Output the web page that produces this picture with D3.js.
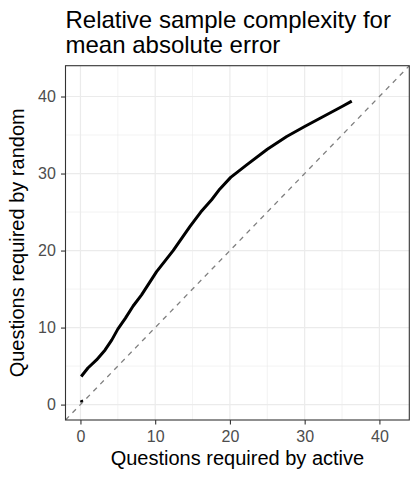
<!DOCTYPE html>
<html><head><meta charset="utf-8">
<script src="https://cdn.jsdelivr.net/npm/d3@7"></script>
<style>body{margin:0;background:#fff;}svg{display:block;font-family:"Liberation Sans",Arial,sans-serif;}</style>
</head><body>
<script>
const titleLines = ["Relative sample complexity for", "mean absolute error"];
const xLabel = "Questions required by active";
const yLabel = "Questions required by random";
const ticks = [0, 10, 20, 30, 40];
const minorTicks = [-5, 5, 15, 25, 35, 45];
const activeQ = [0.1, 1.0, 2.15, 3.3, 4.2, 5.0, 6.0, 7.05, 8.18, 10.19, 12.4, 14.64, 16.1, 17.55, 18.66, 20.1, 22.2, 25.0, 27.6, 30.0, 32.5, 35.0, 36.3];
const randomQ = [3.65, 4.75, 5.8, 7.1, 8.4, 9.8, 11.2, 12.8, 14.25, 17.27, 20.0, 23.1, 25.0, 26.6, 28.0, 29.5, 31.1, 33.15, 34.8, 36.1, 37.4, 38.7, 39.4];
const stubActive = [0.1, 0.22];
const stubRandom = [0.58, 0.32];
const domain = [-2, 44];

const W = 420, H = 480;
const L = 65.5, R = 409.3, T = 65.7, B = 420;
const svg = d3.select("body").append("svg").attr("width", W).attr("height", H);
const x = d3.scaleLinear().domain(domain).range([L, R]);
const y = d3.scaleLinear().domain(domain).range([B, T]);

const defs = svg.append("defs");
defs.append("clipPath").attr("id", "clip").append("rect").attr("x", L).attr("y", T).attr("width", R - L).attr("height", B - T);

// grid
const g = svg.append("g");
const minorIn = minorTicks.filter(d => d > domain[0] && d < domain[1]);
g.selectAll(".mx").data(minorIn).enter().append("line")
  .attr("x1", d => x(d)).attr("x2", d => x(d)).attr("y1", T).attr("y2", B).attr("stroke", "#EBEBEB").attr("stroke-width", 0.6);
g.selectAll(".my").data(minorIn).enter().append("line")
  .attr("y1", d => y(d)).attr("y2", d => y(d)).attr("x1", L).attr("x2", R).attr("stroke", "#EBEBEB").attr("stroke-width", 0.6);
g.selectAll(".Mx").data(ticks).enter().append("line")
  .attr("x1", d => x(d)).attr("x2", d => x(d)).attr("y1", T).attr("y2", B).attr("stroke", "#EBEBEB").attr("stroke-width", 1.2);
g.selectAll(".My").data(ticks).enter().append("line")
  .attr("y1", d => y(d)).attr("y2", d => y(d)).attr("x1", L).attr("x2", R).attr("stroke", "#EBEBEB").attr("stroke-width", 1.2);

const plot = svg.append("g").attr("clip-path", "url(#clip)");
plot.append("line").attr("x1", x(domain[0])).attr("y1", y(domain[0])).attr("x2", x(domain[1])).attr("y2", y(domain[1]))
  .attr("stroke", "#7F7F7F").attr("stroke-width", 1.3).attr("stroke-dasharray", "5,5");

const line = d3.line().x(d => x(d[0])).y(d => y(d[1]));
plot.append("path").datum(activeQ.map((v, i) => [v, randomQ[i]])).attr("d", line)
  .attr("fill", "none").attr("stroke", "#000").attr("stroke-width", 3).attr("stroke-linejoin", "round").attr("stroke-linecap", "butt");
plot.append("path").datum(stubActive.map((v, i) => [v, stubRandom[i]])).attr("d", line)
  .attr("fill", "none").attr("stroke", "#000").attr("stroke-width", 3).attr("stroke-linecap", "butt");

svg.append("rect").attr("x", L).attr("y", T).attr("width", R - L).attr("height", B - T)
  .attr("fill", "none").attr("stroke", "#333333").attr("stroke-width", 1.1);

const xAxis = svg.append("g").attr("transform", `translate(0,${B})`)
  .call(d3.axisBottom(x).tickValues(ticks).tickSize(4.5).tickPadding(6.4).tickSizeOuter(0));
const yAxis = svg.append("g").attr("transform", `translate(${L},0)`)
  .call(d3.axisLeft(y).tickValues(ticks).tickSize(4.5).tickPadding(5.1).tickSizeOuter(0));
[xAxis, yAxis].forEach(a => {
  a.select(".domain").remove();
  a.selectAll(".tick line").attr("stroke", "#333333").attr("stroke-width", 1.1);
  a.selectAll(".tick text").attr("fill", "#4D4D4D").attr("font-size", "16px").attr("font-family", "Liberation Sans, Arial, sans-serif");
});

svg.append("text").attr("x", (L + R) / 2).attr("y", 465).attr("text-anchor", "middle")
  .attr("font-size", "20px").attr("fill", "#000").text(xLabel);
svg.append("text").attr("transform", `translate(24,${(T + B) / 2}) rotate(-90)`).attr("text-anchor", "middle")
  .attr("font-size", "20px").attr("fill", "#000").text(yLabel);

svg.append("g").selectAll("text").data(titleLines).enter().append("text")
  .attr("x", L).attr("y", (d, i) => 28.3 + i * 25).attr("font-size", "24px").attr("fill", "#000").text(d => d);
</script>
</body></html>
